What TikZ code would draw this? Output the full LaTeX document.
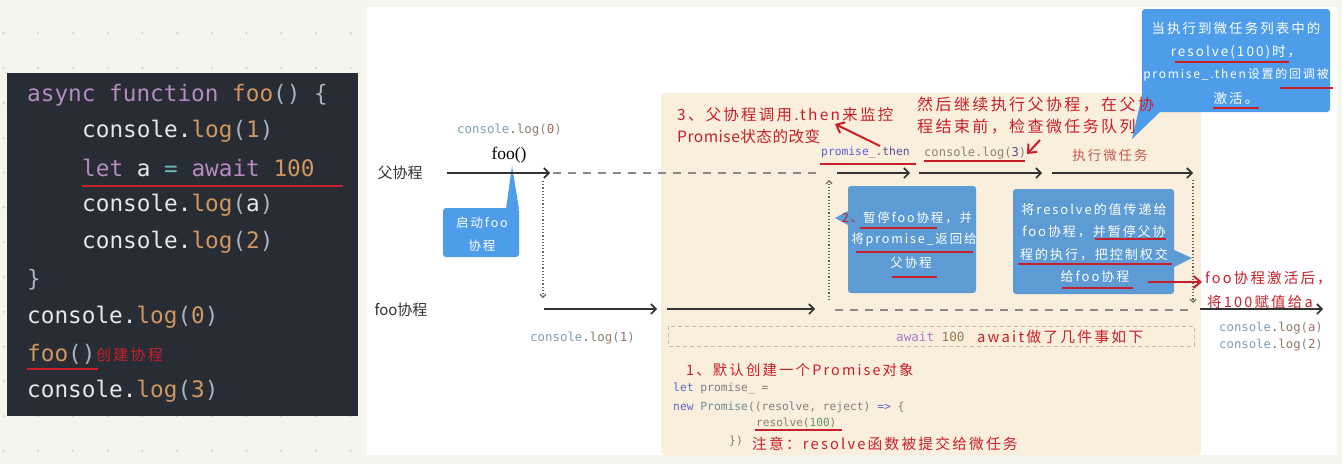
\documentclass[tikz,border=0pt]{standalone}
\usepackage{fontspec}
\setmainfont{Liberation Serif}
\setmonofont{DejaVu Sans Mono}
\newfontfamily\cjk{Noto Sans CJK SC}
\newfontfamily\hand[LetterSpace=15]{Noto Sans CJK SC}
\newfontfamily\handn[LetterSpace=3]{Noto Sans CJK SC}
\usetikzlibrary{arrows.meta}
\definecolor{bgoff}{HTML}{F6F5EC}
\definecolor{dotc}{HTML}{CFCEC4}
\definecolor{codebg}{HTML}{282C34}
\definecolor{kwc}{HTML}{B48CC0}
\definecolor{orc}{HTML}{D0975F}
\definecolor{whc}{HTML}{E8E8E8}
\definecolor{grc}{HTML}{ABB2BF}
\definecolor{eqc}{HTML}{6CB8B8}
\definecolor{redc}{HTML}{C8202A}
\definecolor{redl}{HTML}{C65A4E}
\definecolor{beige}{HTML}{FAEEDC}
\definecolor{bluea}{HTML}{4E9DEB}
\definecolor{blueb}{HTML}{5C9BD3}
\definecolor{linec}{HTML}{333333}
\definecolor{dashc}{HTML}{8A8A8A}
\definecolor{dotln}{HTML}{666666}
\definecolor{logA}{HTML}{7F9FB2}
\definecolor{logB}{HTML}{666666}
\definecolor{logC}{HTML}{8B7D6B}
\definecolor{logD}{HTML}{888888}
\definecolor{logN}{HTML}{9E6B5A}
\definecolor{thenc}{HTML}{5A5FD0}
\definecolor{thend}{HTML}{505090}
\definecolor{olive}{HTML}{8C8672}
\definecolor{awk}{HTML}{A47CC8}
\definecolor{awn}{HTML}{9C7C5A}
\definecolor{bkw}{HTML}{5B6BC8}
\definecolor{bgr}{HTML}{808080}
\definecolor{bpr}{HTML}{6E8E9C}
\definecolor{bgn}{HTML}{5E9A5E}
\definecolor{rsv}{HTML}{8A8070}
\definecolor{rectc}{HTML}{BBBBBB}
\newcommand\tcol[2]{\textcolor{#1}{#2}}
\newcommand\hsz[1]{\hand\fontsize{#1}{#1}\selectfont}
\newcommand\hnsz[1]{\handn\fontsize{#1}{#1}\selectfont}
\newcommand\msz[1]{\ttfamily\fontsize{#1}{#1}\selectfont}
\newcommand\clog[1]{\tcol{whc}{console.}\tcol{orc}{log}\tcol{grc}{(}#1\tcol{grc}{)}}
\newcommand\rlog[1]{\tcol{logA}{console}\tcol{logB}{.}\tcol{logC}{log}\tcol{logD}{(}#1\tcol{logD}{)}}
\tikzset{
  codeline/.style={anchor=west, inner sep=0pt, font=\msz{22.7}},
  rlogline/.style={anchor=west, inner sep=0pt},
  redtxt/.style={anchor=west, inner sep=0pt, text=redc},
  lane/.style={inner sep=0pt, text=linec, font=\cjk\fontsize{15}{15}\selectfont},
  tl/.style={draw=linec, line width=1.6pt, -{Straight Barb[length=5pt,width=10pt]}},
  dashl/.style={draw=dashc, line width=1.5pt, dash pattern=on 8pt off 7pt},
  dotl/.style={draw=dotln, line width=1.2pt, dash pattern=on 1.2pt off 2pt, -{Straight Barb[length=3pt,width=6pt]}},
  redarrow/.style={draw=redc, line width=2pt, -{Straight Barb[length=7pt,width=12pt]}},
  uline/.style={draw=redc, line width=2.2pt},
  bluebox/.style={rounded corners=3pt, inner sep=0pt, draw=none},
  boxtext/.style={inner sep=0pt, text=white, align=center}
}
\begin{document}
\begin{tikzpicture}[x=1pt,y=-1pt]
\useasboundingbox (0,0) rectangle (1342,464);
\fill[bgoff] (0,0) rectangle (1342,464);
\foreach \i in {0,...,38}{\foreach \j in {0,...,13}{\fill[dotc] (3.5+34.7*\i,-1.5+34.8*\j) circle (1.1pt);}}
% ---------- left code panel
\fill[codebg] (7,73) rectangle (358,416);
\node[codeline] (c1) at (27,95) {\tcol{kwc}{async function }\tcol{orc}{foo}\tcol{grc}{() \{}};
\node[codeline] (c2) at (82,131) {\clog{\tcol{orc}{1}}};
\node[codeline] (c3) at (82,168) {\tcol{kwc}{let }\tcol{whc}{a }\tcol{eqc}{= }\tcol{kwc}{await }\tcol{orc}{100}};
\node[codeline] (c4) at (82,205) {\clog{\tcol{whc}{a}}};
\node[codeline] (c5) at (82,242) {\clog{\tcol{orc}{2}}};
\node[codeline] (c6) at (27,280) {\tcol{grc}{\}}};
\node[codeline] (c7) at (27,317) {\clog{\tcol{orc}{0}}};
\node[codeline] (c8) at (27,354) {\tcol{orc}{foo}\tcol{grc}{()}};
\node[redtxt, font=\hsz{15}] (c8n) at (96,355) {创建协程};
\node[codeline] (c9) at (27,391) {\clog{\tcol{orc}{3}}};
\draw[uline] (82,186) -- (343,186);
\draw[uline] (27,369) -- (98,369);
% ---------- right panel
\fill[white] (367,7) rectangle (1337,455);
\fill[beige, rounded corners=4pt] (661,93) rectangle (1201,455);
% top-right callout
\fill[bluea] (1142,96) -- (1132,139) -- (1160,112) -- cycle;
\node[bluebox, fill=bluea, minimum width=188pt, minimum height=103pt] (cb) at (1236,60.5) {};
\node[boxtext, font=\hsz{13.5}] (cbt1) at (1236,28) {当执行到微任务列表中的};
\node[boxtext, font=\hsz{13.5}] (cbt2) at (1236,52) {resolve(100)时，};
\node[boxtext, font=\hsz{12}] (cbt3) at (1236,75) {promise\_.then设置的回调被};
\node[boxtext, font=\hsz{13.5}] (cbt4) at (1236,98) {激活。};
\draw[uline] (1175,62) -- (1289,62);
\draw[uline] (1280,88) -- (1333,88);
\draw[uline] (1213,108) -- (1259,108);
% lane labels
\node[lane] (lp) at (400,173) {父协程};
\node[lane] (lf) at (401,310) {foo协程};
\node[rlogline, font=\msz{12.4}] (log0) at (457,130) {\rlog{\tcol{logN}{0}}};
\node[inner sep=0pt, font=\fontsize{17.5}{17.5}\selectfont, text=black] (fc) at (509,155) {foo()};
% small callout
\fill[bluea] (506,209) -- (512,166) -- (519,209) -- cycle;
\node[bluebox, fill=bluea, minimum width=76pt, minimum height=49pt] (sb) at (481,232.5) {};
\node[boxtext, font=\hsz{12.5}] (sbt1) at (482,223) {启动foo};
\node[boxtext, font=\hsz{12.5}] (sbt2) at (482,246) {协程};
\node[rlogline, font=\msz{12.4}] (log1) at (530,338) {\rlog{\tcol{logN}{1}}};
% red note 3
\node[redtxt, font=\hsz{15.4}] (n3a) at (677,115) {3、父协程调用.then来监控};
\node[redtxt, font=\hnsz{15.6}] (n3b) at (677,137) {Promise状态的改变};
\node[rlogline, font=\msz{11.3}] (pthen) at (821,153) {\tcol{thenc}{promise\_}\tcol{thend}{.then}};
\node[rlogline, font=\msz{12.1}] (log3) at (924,153) {\tcol{olive}{console.log(}\tcol{thend}{3}\tcol{olive}{)}};
\node[redtxt, font=\hsz{16}] (nca) at (917,105) {然后继续执行父协程，在父协};
\node[redtxt, font=\hsz{16}] (ncb) at (917,127) {程结束前，检查微任务队列};
\node[inner sep=0pt, text=redl, font=\hsz{13.4}] (exec) at (1110,155) {执行微任务};
\draw[uline] (820,164) -- (916,164);
\draw[uline] (924,161) -- (1025,161);
% box 2
\fill[blueb] (848,211) -- (835,218) -- (848,225) -- cycle;
\node[bluebox, fill=blueb, minimum width=128pt, minimum height=107pt] (b2) at (912,239.5) {};
\node[boxtext, font=\hsz{12.5}] (b2t1) at (907,218) {\tcol{redc}{2、}暂停foo协程，并};
\node[boxtext, font=\hsz{12.5}] (b2t2) at (914,240) {将promise\_返回给};
\node[boxtext, font=\hsz{12.5}] (b2t3) at (911,263) {父协程};
\draw[uline] (860,228) -- (937,228);
\draw[uline] (856,252) -- (973,252);
\draw[uline] (892,277) -- (937,277);
% box 3
\fill[blueb] (1174,250) -- (1192,258) -- (1174,267) -- cycle;
\node[bluebox, fill=blueb, minimum width=161pt, minimum height=105pt] (b3) at (1093.5,241.5) {};
\node[boxtext, font=\hsz{13}] (b3t1) at (1094,210) {将resolve的值传递给};
\node[boxtext, font=\hsz{13}] (b3t2) at (1094,232) {foo协程，并暂停父协};
\node[boxtext, font=\hsz{13}] (b3t3) at (1094,255) {程的执行，把控制权交};
\node[boxtext, font=\hsz{13}] (b3t4) at (1095,277) {给foo协程};
\draw[uline] (1095,239) -- (1166,239);
\draw[uline] (1018,264) -- (1172,264);
\draw[uline] (1062,288) -- (1133,288);
% foo activation note
\node[redtxt, font=\hsz{14.5}] (nfa) at (1205,278) {foo协程激活后，};
\node[redtxt, font=\hsz{14.5}] (nfb) at (1207,302) {将100赋值给a};
\node[rlogline, font=\msz{12.3}] (loga) at (1219,328) {\rlog{\tcol{logN}{a}}};
\node[rlogline, font=\msz{12.3}] (log2) at (1219,345) {\rlog{\tcol{logN}{2}}};
% await section
\draw[rectc, line width=1pt, dash pattern=on 4pt off 3pt] (668,326) rectangle (1194,346);
\node[rlogline, font=\msz{12.6}] (aw) at (896,337) {\tcol{awk}{await }\tcol{awn}{100}};
\node[redtxt, font=\hsz{14.8}] (awn) at (977,337) {await做了几件事如下};
\node[redtxt, font=\hsz{14.4}] (n1) at (686,370) {1、默认创建一个Promise对象};
\node[rlogline, font=\msz{11.3}] (bc1) at (673,389) {\tcol{bkw}{let }\tcol{bgr}{promise\_ =}};
\node[rlogline, font=\msz{11.3}] (bc2) at (673,407) {\tcol{bkw}{new }\tcol{bpr}{Promise}\tcol{bgr}{((resolve, reject) }\tcol{bkw}{=> }\tcol{bgr}{\{}};
\node[rlogline, font=\msz{11.1}] (bc3) at (756,423) {\tcol{rsv}{resolve(}\tcol{bgn}{100}\tcol{rsv}{)}};
\draw[draw=redc, line width=1.8pt] (755,430) -- (842,430);
\node[rlogline, font=\msz{11.3}] (bc4) at (729,441) {\tcol{bgr}{\})}};
\node[redtxt, font=\hsz{14.7}] (n4) at (752,444) {注意：resolve函数被提交给微任务};
% ---------- timelines
\coordinate (pa0) at (447,173); \coordinate (pa1) at (550,173);
\coordinate (pd0) at (553,173); \coordinate (pd1) at (818,173);
\coordinate (pb0) at (837,173); \coordinate (pb1) at (910,173);
\coordinate (pc0) at (919,173); \coordinate (pc1) at (1042,173);
\coordinate (pe0) at (1052,173); \coordinate (pe1) at (1193,173);
\draw[tl] (pa0) -- (pa1);
\draw[dashl] (pd0) -- (pd1);
\draw[tl] (pb0) -- (pb1);
\draw[tl] (pc0) -- (pc1);
\draw[tl] (pe0) -- (pe1);
\coordinate (fa0) at (544,309); \coordinate (fa1) at (657,309);
\coordinate (fb0) at (667,309); \coordinate (fb1) at (815,309);
\coordinate (fd0) at (835,310); \coordinate (fd1) at (1190,310);
\coordinate (fe0) at (1200,309); \coordinate (fe1) at (1323,309);
\draw[tl] (fa0) -- (fa1);
\draw[tl] (fb0) -- (fb1);
\draw[dashl] (fd0) -- (fd1);
\draw[tl] (fe0) -- (fe1);
% dotted verticals
\coordinate (v1a) at (543,181); \coordinate (v1b) at (543,298);
\coordinate (v2a) at (829,300); \coordinate (v2b) at (829,180);
\coordinate (v3a) at (1193,180); \coordinate (v3b) at (1193,303);
\draw[dotl] (v1a) -- (v1b);
\draw[dotl] (v2a) -- (v2b);
\draw[dotl] (v3a) -- (v3b);
% red arrows
\coordinate (r1a) at (880,146); \coordinate (r1b) at (835,124);
\coordinate (r2a) at (1040,140); \coordinate (r2b) at (1027,154);
\coordinate (r3a) at (1148,282); \coordinate (r3b) at (1202,282);
\draw[redarrow] (r1a) -- (r1b);
\draw[redarrow] (r2a) -- (r2b);
\draw[redarrow] (r3a) -- (r3b);
\end{tikzpicture}
\end{document}
